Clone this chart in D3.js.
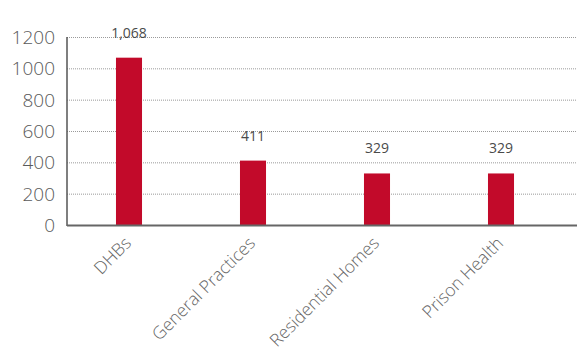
<!DOCTYPE html>
<html>
<head>
<meta charset="utf-8">
<script src="https://cdn.jsdelivr.net/npm/d3@7"></script>
<style>
  html, body { margin: 0; padding: 0; background: #fff; }
  svg { display: block; }
</style>
</head>
<body>
<svg id="chart" width="578" height="356"></svg>
<script>
// Organisations and their counts
const categories = ["DHBs", "General Practices", "Residential Homes", "Prison Health"];
const values = [1068, 411, 329, 329];
const valueLabels = ["1,068", "411", "329", "329"];
const yTicks = [0, 200, 400, 600, 800, 1000, 1200];

(function draw() {
  const svg = d3.select("#chart");
  const left = 67, plotTop = 37, bottom = 225, bandRight = 563, gridRight = 577;
  const font = "'Open Sans', 'Noto Sans', sans-serif";

  const x = d3.scaleBand().domain(categories).range([left, bandRight]).paddingInner(0.79).paddingOuter(0.395);
  const y = d3.scaleLinear().domain([0, 1200]).range([bottom, plotTop]);

  // horizontal dotted gridlines
  svg.append("g").selectAll("line")
    .data(yTicks.filter(t => t > 0))
    .join("line")
    .attr("x1", left).attr("x2", gridRight)
    .attr("y1", d => y(d) + 0.5).attr("y2", d => y(d) + 0.5)
    .attr("stroke", "#9a9a9a").attr("stroke-width", 1)
    .attr("stroke-dasharray", "1,1");

  // y-axis tick labels
  svg.append("g").selectAll("text")
    .data(yTicks)
    .join("text")
    .attr("x", left - 12).attr("y", d => y(d))
    .attr("dy", "0.36em")
    .attr("text-anchor", "end")
    .attr("font-family", font).attr("font-weight", 300)
    .attr("font-size", 19).attr("fill", "#5a5a5a")
    .text(d => d);

  // bars
  svg.append("g").selectAll("rect")
    .data(values)
    .join("rect")
    .attr("x", (d, i) => x(categories[i]))
    .attr("width", x.bandwidth())
    .attr("y", d => y(d))
    .attr("height", d => y(0) - y(d))
    .attr("fill", "#c20a2a");

  // value labels above bars
  svg.append("g").selectAll("text")
    .data(values)
    .join("text")
    .attr("x", (d, i) => x(categories[i]) + x.bandwidth() / 2)
    .attr("y", d => y(d) - 20)
    .attr("text-anchor", "middle")
    .attr("font-family", font).attr("font-size", 14)
    .attr("fill", "#4a4a4a")
    .text((d, i) => valueLabels[i]);

  // axis lines
  svg.append("line")
    .attr("x1", left).attr("x2", left).attr("y1", plotTop).attr("y2", bottom + 1)
    .attr("stroke", "#555").attr("stroke-width", 1.5);
  svg.append("line")
    .attr("x1", left).attr("x2", gridRight).attr("y1", bottom + 0.5).attr("y2", bottom + 0.5)
    .attr("stroke", "#666").attr("stroke-width", 2);

  // rotated category labels
  svg.append("g").selectAll("text")
    .data(categories)
    .join("text")
    .attr("transform", d => `translate(${x(d) + x.bandwidth() / 2 - 1},${bottom + 15}) rotate(-45)`)
    .attr("text-anchor", "end")
    .attr("dy", "0.35em")
    .attr("font-family", font).attr("font-weight", 300)
    .attr("font-size", 17.5).attr("fill", "#666")
    .text(d => d);
})();
</script>
</body>
</html>
